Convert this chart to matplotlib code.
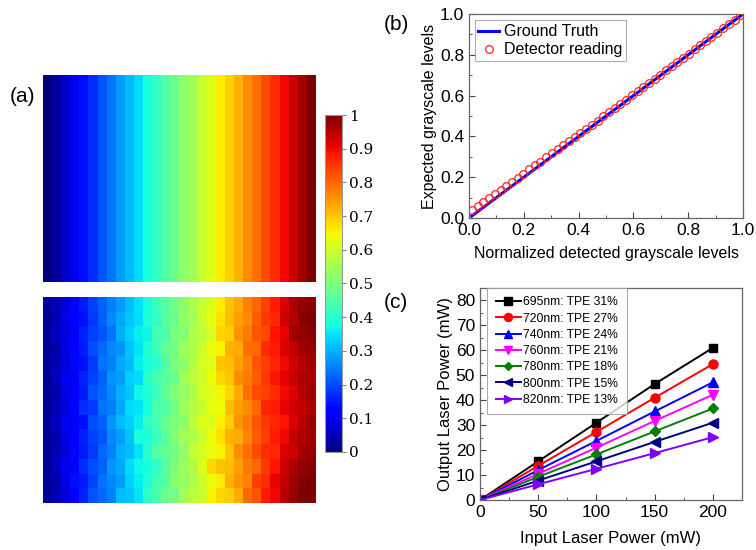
import numpy as np
import matplotlib
matplotlib.use('Agg')
from matplotlib import pyplot as plt
from matplotlib.ticker import MultipleLocator

plt.rcParams['font.family'] = ['Liberation Sans', 'DejaVu Sans']

# (a) grayscale pattern: 30 column levels (top) and detected image (bottom), in percent
levels = [0, 3, 7, 10, 14, 17, 21, 24, 28, 31, 34, 38, 41, 45, 48,
          52, 55, 59, 62, 66, 69, 72, 76, 79, 83, 86, 90, 93, 97, 100]
detected = [
    [3, 5, 8, 11, 15, 19, 22, 25, 28, 31, 35, 38, 42, 45, 49, 52, 56, 59, 62, 66, 70, 73, 77, 80, 84, 88, 92, 96, 98, 99],
    [2, 5, 9, 12, 14, 18, 22, 26, 29, 32, 34, 39, 41, 46, 48, 53, 55, 60, 63, 67, 71, 74, 76, 81, 85, 87, 93, 95, 99, 100],
    [3, 6, 8, 11, 16, 19, 21, 24, 30, 33, 36, 37, 43, 44, 50, 51, 57, 58, 61, 68, 69, 75, 78, 82, 83, 89, 91, 97, 98, 99],
    [2, 4, 9, 12, 15, 20, 23, 26, 27, 32, 35, 39, 42, 47, 49, 54, 56, 60, 63, 65, 72, 73, 79, 80, 86, 88, 92, 94, 97, 98],
    [3, 5, 8, 13, 14, 18, 24, 25, 29, 31, 36, 38, 40, 45, 50, 52, 57, 61, 62, 70, 71, 74, 77, 82, 84, 87, 90, 93, 95, 97],
    [2, 6, 10, 11, 16, 19, 22, 27, 28, 33, 34, 40, 43, 46, 48, 55, 58, 60, 64, 68, 70, 76, 78, 81, 85, 89, 91, 94, 96, 96],
    [3, 4, 9, 12, 15, 21, 23, 26, 30, 32, 37, 39, 42, 47, 51, 53, 56, 61, 62, 65, 68, 73, 79, 83, 84, 86, 90, 92, 95, 97],
    [2, 5, 8, 13, 17, 18, 24, 25, 29, 34, 35, 38, 44, 45, 49, 54, 57, 59, 63, 64, 71, 74, 76, 80, 87, 88, 91, 93, 94, 96],
    [3, 6, 10, 11, 14, 20, 22, 27, 31, 33, 36, 41, 43, 48, 50, 52, 58, 62, 61, 66, 69, 75, 78, 82, 85, 87, 89, 92, 95, 98],
    [2, 4, 9, 12, 16, 19, 21, 26, 28, 32, 38, 39, 42, 46, 51, 55, 56, 60, 64, 67, 72, 73, 77, 81, 84, 88, 90, 94, 96, 97],
    [3, 5, 8, 13, 15, 18, 23, 25, 30, 31, 35, 40, 45, 47, 49, 53, 59, 61, 63, 65, 70, 76, 79, 83, 86, 87, 92, 93, 97, 98],
    [2, 6, 10, 11, 17, 20, 22, 27, 29, 34, 37, 38, 41, 46, 50, 54, 57, 62, 68, 70, 71, 74, 78, 80, 85, 89, 93, 96, 98, 99],
    [3, 4, 9, 14, 15, 19, 24, 26, 28, 33, 36, 39, 43, 45, 52, 53, 56, 60, 64, 66, 72, 75, 77, 84, 86, 91, 94, 97, 99, 100],
    [2, 5, 8, 12, 16, 21, 23, 25, 31, 32, 35, 41, 44, 48, 49, 55, 58, 59, 65, 68, 69, 73, 80, 82, 88, 90, 95, 98, 100, 100],
]
cbar_ticks = [0, 0.1, 0.2, 0.3, 0.4, 0.5, 0.6, 0.7, 0.8, 0.9, 1]
cbar_labels = ['0', '0.1', '0.2', '0.3', '0.4', '0.5', '0.6', '0.7', '0.8', '0.9', '1']

# (b) calibration
truth_x = [0.01, 1.0]
truth_y = [0.01, 1.0]
det_x = [0.010, 0.031, 0.052, 0.073, 0.094, 0.115, 0.135, 0.156, 0.177, 0.198,
         0.219, 0.240, 0.260, 0.281, 0.302, 0.323, 0.344, 0.365, 0.385, 0.406,
         0.427, 0.448, 0.469, 0.490, 0.510, 0.531, 0.552, 0.573, 0.594, 0.615,
         0.635, 0.656, 0.677, 0.698, 0.719, 0.740, 0.760, 0.781, 0.802, 0.823,
         0.844, 0.865, 0.885, 0.906, 0.927, 0.948, 0.969, 0.990]
det_y = [0.040, 0.059, 0.079, 0.099, 0.119, 0.139, 0.158, 0.178, 0.198, 0.218,
         0.238, 0.258, 0.277, 0.297, 0.317, 0.337, 0.357, 0.377, 0.397, 0.417,
         0.437, 0.458, 0.478, 0.499, 0.518, 0.539, 0.560, 0.580, 0.601, 0.622,
         0.641, 0.662, 0.683, 0.703, 0.724, 0.745, 0.765, 0.786, 0.806, 0.827,
         0.848, 0.869, 0.889, 0.909, 0.930, 0.951, 0.972, 0.993]

# (c) laser power
input_power = [0, 50, 100, 150, 200]
series_labels = ['695nm: TPE 31%', '720nm: TPE 27%', '740nm: TPE 24%', '760nm: TPE 21%',
                 '780nm: TPE 18%', '800nm: TPE 15%', '820nm: TPE 13%']
output_power = [
    [0, 15.5, 31.0, 46.5, 61.0],
    [0, 13.7, 27.3, 41.0, 54.5],
    [0, 12.0, 23.7, 35.5, 47.2],
    [0, 10.5, 21.0, 31.7, 42.2],
    [0, 9.3, 18.3, 27.5, 36.7],
    [0, 7.8, 15.5, 23.3, 31.0],
    [0, 6.3, 12.5, 18.8, 25.2],
]
colors = ['#000000', '#ff0000', '#0000ff', '#ff00ff', '#008000', '#000080', '#8000ff']
markers = ['s', 'o', '^', 'v', 'D', '<', '>']
marker_sizes = [6, 6.5, 6.5, 6.5, 5, 6.5, 6.5]

fig = plt.figure(figsize=(7.56, 5.5), dpi=100)

# ---- (a) ----
ax_top = fig.add_axes([0.0569, 0.4873, 0.3611, 0.3764])
ax_bot = fig.add_axes([0.0569, 0.0855, 0.3611, 0.3745])
top_img = np.array([levels] * 10) / 100.0
im = ax_top.imshow(top_img, cmap='jet', vmin=0, vmax=1, aspect='auto', interpolation='nearest')
ax_bot.imshow(np.array(detected) / 100.0, cmap='jet', vmin=0, vmax=1, aspect='auto', interpolation='nearest')
ax_top.axis('off')
ax_bot.axis('off')

cax = fig.add_axes([0.4299, 0.1782, 0.0225, 0.6127])
cb = fig.colorbar(im, cax=cax, ticks=cbar_ticks)
cb.ax.set_yticklabels(cbar_labels, family='DejaVu Serif', fontsize=11)
cb.outline.set_edgecolor('#999999')
cb.outline.set_linewidth(0.8)
cb.ax.tick_params(length=3, width=0.6, color='#666666', pad=2)
fig.text(0.013, 0.814, '(a)', fontsize=15)

# ---- (b) ----
axb = fig.add_axes([0.6204, 0.6036, 0.3624, 0.3709])
axb.plot(truth_x, truth_y, color='#0000ff', lw=2.2, label='Ground Truth', zorder=2)
axb.plot(det_x, det_y, 'o', mfc='none', mec='#ff2020', ms=5.5, mew=0.9,
         label='Detector reading', zorder=3)
axb.set_xlim(0, 1.0)
axb.set_ylim(0, 1.0)
axb.xaxis.set_major_locator(MultipleLocator(0.2))
axb.yaxis.set_major_locator(MultipleLocator(0.2))
axb.xaxis.set_minor_locator(MultipleLocator(0.1))
axb.yaxis.set_minor_locator(MultipleLocator(0.1))
axb.set_xlabel('Normalized detected grayscale levels', fontsize=11.5, labelpad=6)
axb.set_ylabel('Expected grayscale levels', fontsize=11.5, labelpad=2)
leg = axb.legend(loc='upper left', fontsize=11.5, handlelength=1.3, handletextpad=0.3,
                 borderpad=0.25, labelspacing=0.2, fancybox=False, edgecolor='#999999',
                 bbox_to_anchor=(0.02, 0.97), borderaxespad=0)
leg.get_frame().set_linewidth(0.8)
fig.text(0.508, 0.945, '(b)', fontsize=15)

# ---- (c) ----
axc = fig.add_axes([0.6349, 0.0909, 0.3466, 0.3855])
for ys, lab, c, m, s in zip(output_power, series_labels, colors, markers, marker_sizes):
    axc.plot(input_power, ys, color=c, marker=m, ms=s, lw=1.4, label=lab)
axc.set_xlim(0, 225)
axc.set_ylim(0, 85)
axc.xaxis.set_major_locator(MultipleLocator(50))
axc.xaxis.set_minor_locator(MultipleLocator(25))
axc.yaxis.set_major_locator(MultipleLocator(10))
axc.yaxis.set_minor_locator(MultipleLocator(5))
axc.set_xlabel('Input Laser Power (mW)', fontsize=12, labelpad=8)
axc.set_ylabel('Output Laser Power (mW)', fontsize=12, labelpad=2)
legc = axc.legend(loc='upper left', fontsize=8.7, handlelength=2.1, handletextpad=0.2,
                  borderpad=0.7, labelspacing=0.35, fancybox=False, edgecolor='#999999',
                  bbox_to_anchor=(0.027, 1.0), borderaxespad=0, markerscale=0.9)
legc.get_frame().set_linewidth(0.8)
fig.text(0.508, 0.44, '(c)', fontsize=15)

for ax in (axb, axc):
    for sp in ax.spines.values():
        sp.set_color('#666666')
        sp.set_linewidth(0.9)
    ax.tick_params(which='both', direction='in', top=False, right=False,
                   labelsize=12.5, color='#444444')
    ax.tick_params(which='major', length=4, width=0.8)
    ax.tick_params(which='minor', length=2.5, width=0.6)

fig.savefig('out.png', dpi=100)
